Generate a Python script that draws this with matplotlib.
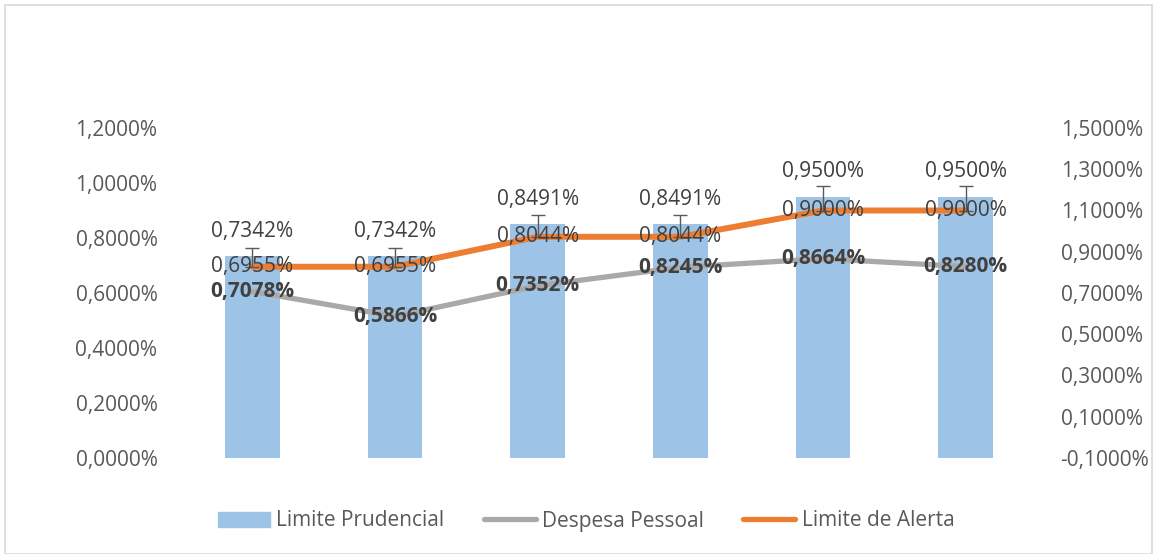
import numpy as np
import matplotlib
matplotlib.use("Agg")
import matplotlib.pyplot as plt
from matplotlib.patches import Patch, Rectangle
from matplotlib.lines import Line2D

plt.rcParams['font.family'] = ['Open Sans', 'DejaVu Sans']

# dados (%)
categorias = ["1", "2", "3", "4", "5", "6"]
limite_prudencial = [0.7342, 0.7342, 0.8491, 0.8491, 0.9500, 0.9500]
despesa_pessoal = [0.7078, 0.5866, 0.7352, 0.8245, 0.8664, 0.8280]
limite_alerta = [0.6955, 0.6955, 0.8044, 0.8044, 0.9000, 0.9000]

azul = "#9DC3E6"
cinza = "#ABA8A8"
laranja = "#ED7D31"
txt = "#404040"
tick_cor = "#595959"
fs = 15


def fmt(v):
    return f"{v:.4f}%".replace(".", ",")


fig = plt.figure(figsize=(11.53, 5.54), dpi=100)
ax = fig.add_axes([181 / 1153, 1 - 458 / 554, (1037 - 181) / 1153, 330 / 554])
ax2 = ax.twinx()

x = np.arange(len(categorias))
ax.bar(x, limite_prudencial, width=0.385, color=azul, zorder=1)
ax.plot(x, limite_alerta, color=laranja, lw=4.3, solid_capstyle="round", zorder=2)
erro = [np.zeros(len(x)), np.array(limite_alerta) * 0.1]
ax.errorbar(x, limite_alerta, yerr=erro, fmt="none", ecolor="#595959",
            elinewidth=1, capsize=5, capthick=1, zorder=3)
ax2.plot(x, despesa_pessoal, color=cinza, lw=3.8, solid_capstyle="round", zorder=2)

for xi, v in zip(x, limite_prudencial):
    ax.annotate(fmt(v), (xi, v), xytext=(0, 18), textcoords="offset points",
                ha="center", va="center", fontsize=fs, color=txt, zorder=5)
for xi, v in zip(x, limite_alerta):
    ax.text(xi, v, fmt(v), ha="center", va="center", fontsize=fs, color=txt, zorder=5)
for xi, v in zip(x, despesa_pessoal):
    ax2.text(xi, v, fmt(v), ha="center", va="center", fontsize=fs,
             fontweight="bold", color=txt, zorder=5)

ax.set_xlim(-0.5, len(x) - 0.5)
ax.set_ylim(0, 1.2)
ax.set_yticks(np.arange(0, 1.21, 0.2))
ax.set_yticklabels([fmt(t) for t in np.arange(0, 1.21, 0.2)])
ax2.set_ylim(-0.1, 1.5)
ax2.set_yticks(np.arange(-0.1, 1.51, 0.2))
ax2.set_yticklabels([fmt(t) for t in np.arange(-0.1, 1.51, 0.2)])
ax.set_xticks([])

for a in (ax, ax2):
    for s in a.spines.values():
        s.set_visible(False)
    a.tick_params(axis="y", length=0, labelsize=fs, labelcolor=tick_cor, pad=17)
ax.tick_params(axis="y", pad=17)

handles = [Patch(color=azul, label="Limite Prudencial"),
           Line2D([], [], color=cinza, lw=3.8, solid_capstyle="round", label="Despesa Pessoal"),
           Line2D([], [], color=laranja, lw=3.8, solid_capstyle="round", label="Limite de Alerta")]
fig.legend(handles=handles, loc="center", bbox_to_anchor=(586 / 1153, 1 - 521 / 554),
           ncol=3, frameon=False, fontsize=fs, labelcolor=tick_cor,
           handlelength=2.5, handletextpad=0.3, columnspacing=1.9)

fig.patches.append(Rectangle((5 / 1153, 0), 1147 / 1153, 1 - 5 / 554, transform=fig.transFigure,
                             fill=False, edgecolor="#D9D9D9", lw=1.2))

fig.savefig("out.png", dpi=100)
